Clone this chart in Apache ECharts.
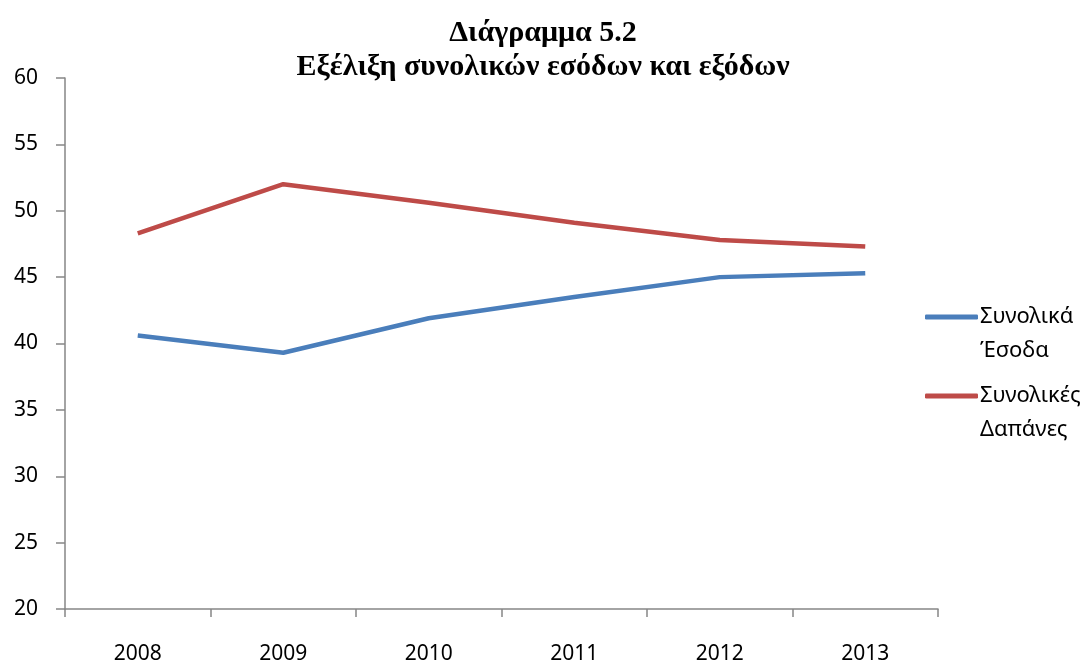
<!DOCTYPE html>
<html>
<head>
<meta charset="utf-8">
<script src="https://cdn.jsdelivr.net/npm/echarts@6/dist/echarts.min.js"></script>
<style>
  html, body { margin: 0; padding: 0; background: #fff; }
  #chart { width: 1086px; height: 661px; }
</style>
</head>
<body>
<div id="chart"></div>
<script>
// δεδομένα
const years = ['2008', '2009', '2010', '2011', '2012', '2013']
const revenue = [40.6, 39.3, 41.9, 43.5, 45.0, 45.3]
const expenditure = [48.3, 52.0, 50.6, 49.1, 47.8, 47.3]
const seriesNames = ['Συνολικά\nΈσοδα', 'Συνολικές\nΔαπάνες']

const chart = echarts.init(document.getElementById('chart'))

const option = {
  animation: false,
  title: {
    text: 'Διάγραμμα 5.2\nΕξέλιξη συνολικών εσόδων και εξόδων',
    left: 538,
    top: 11,
    textAlign: 'center',
    textStyle: {
      fontFamily: 'Liberation Serif',
      fontWeight: 'bold',
      fontSize: 30,
      lineHeight: 34,
      color: '#000'
    }
  },
  legend: {
    orient: 'vertical',
    left: 920,
    top: 261,
    itemWidth: 53,
    itemHeight: 5,
    itemGap: -23,
    icon: 'roundRect',
    data: seriesNames,
    // κενή πρώτη γραμμή ώστε η γραμμή του υπομνήματος να είναι στο ύψος της πρώτης γραμμής κειμένου
    formatter: name => '\n' + name,
    textStyle: {
      fontFamily: 'Noto Sans',
      fontSize: 22,
      lineHeight: 34,
      color: '#000',
      padding: [0, 0, 0, -3]
    }
  },
  grid: {
    left: 65,
    right: 148,
    top: 78,
    bottom: 52,
    containLabel: false,
    outerBoundsMode: 'none'
  },
  xAxis: {
    type: 'category',
    data: years,
    boundaryGap: true,
    axisLine: { lineStyle: { color: '#868686', width: 1.5 } },
    axisTick: { show: true, length: 8, lineStyle: { color: '#868686', width: 1.5 } },
    axisLabel: {
      color: '#000',
      fontFamily: 'Noto Sans',
      fontSize: 21,
      margin: 35
    }
  },
  yAxis: {
    type: 'value',
    min: 20,
    max: 60,
    interval: 5,
    splitLine: { show: false },
    axisLine: { show: true, lineStyle: { color: '#868686', width: 1.5 } },
    axisTick: { show: true, length: 9, lineStyle: { color: '#868686', width: 1.5 } },
    axisLabel: {
      color: '#000',
      fontFamily: 'Noto Sans',
      fontSize: 21,
      margin: 27
    }
  },
  series: [
    {
      name: seriesNames[0],
      type: 'line',
      data: revenue,
      symbol: 'none',
      lineStyle: { color: '#4a7ebb', width: 4.5 },
      itemStyle: { color: '#4a7ebb' }
    },
    {
      name: seriesNames[1],
      type: 'line',
      data: expenditure,
      symbol: 'none',
      lineStyle: { color: '#be4b48', width: 4.5 },
      itemStyle: { color: '#be4b48' }
    }
  ]
}

chart.setOption(option)
</script>
</body>
</html>
